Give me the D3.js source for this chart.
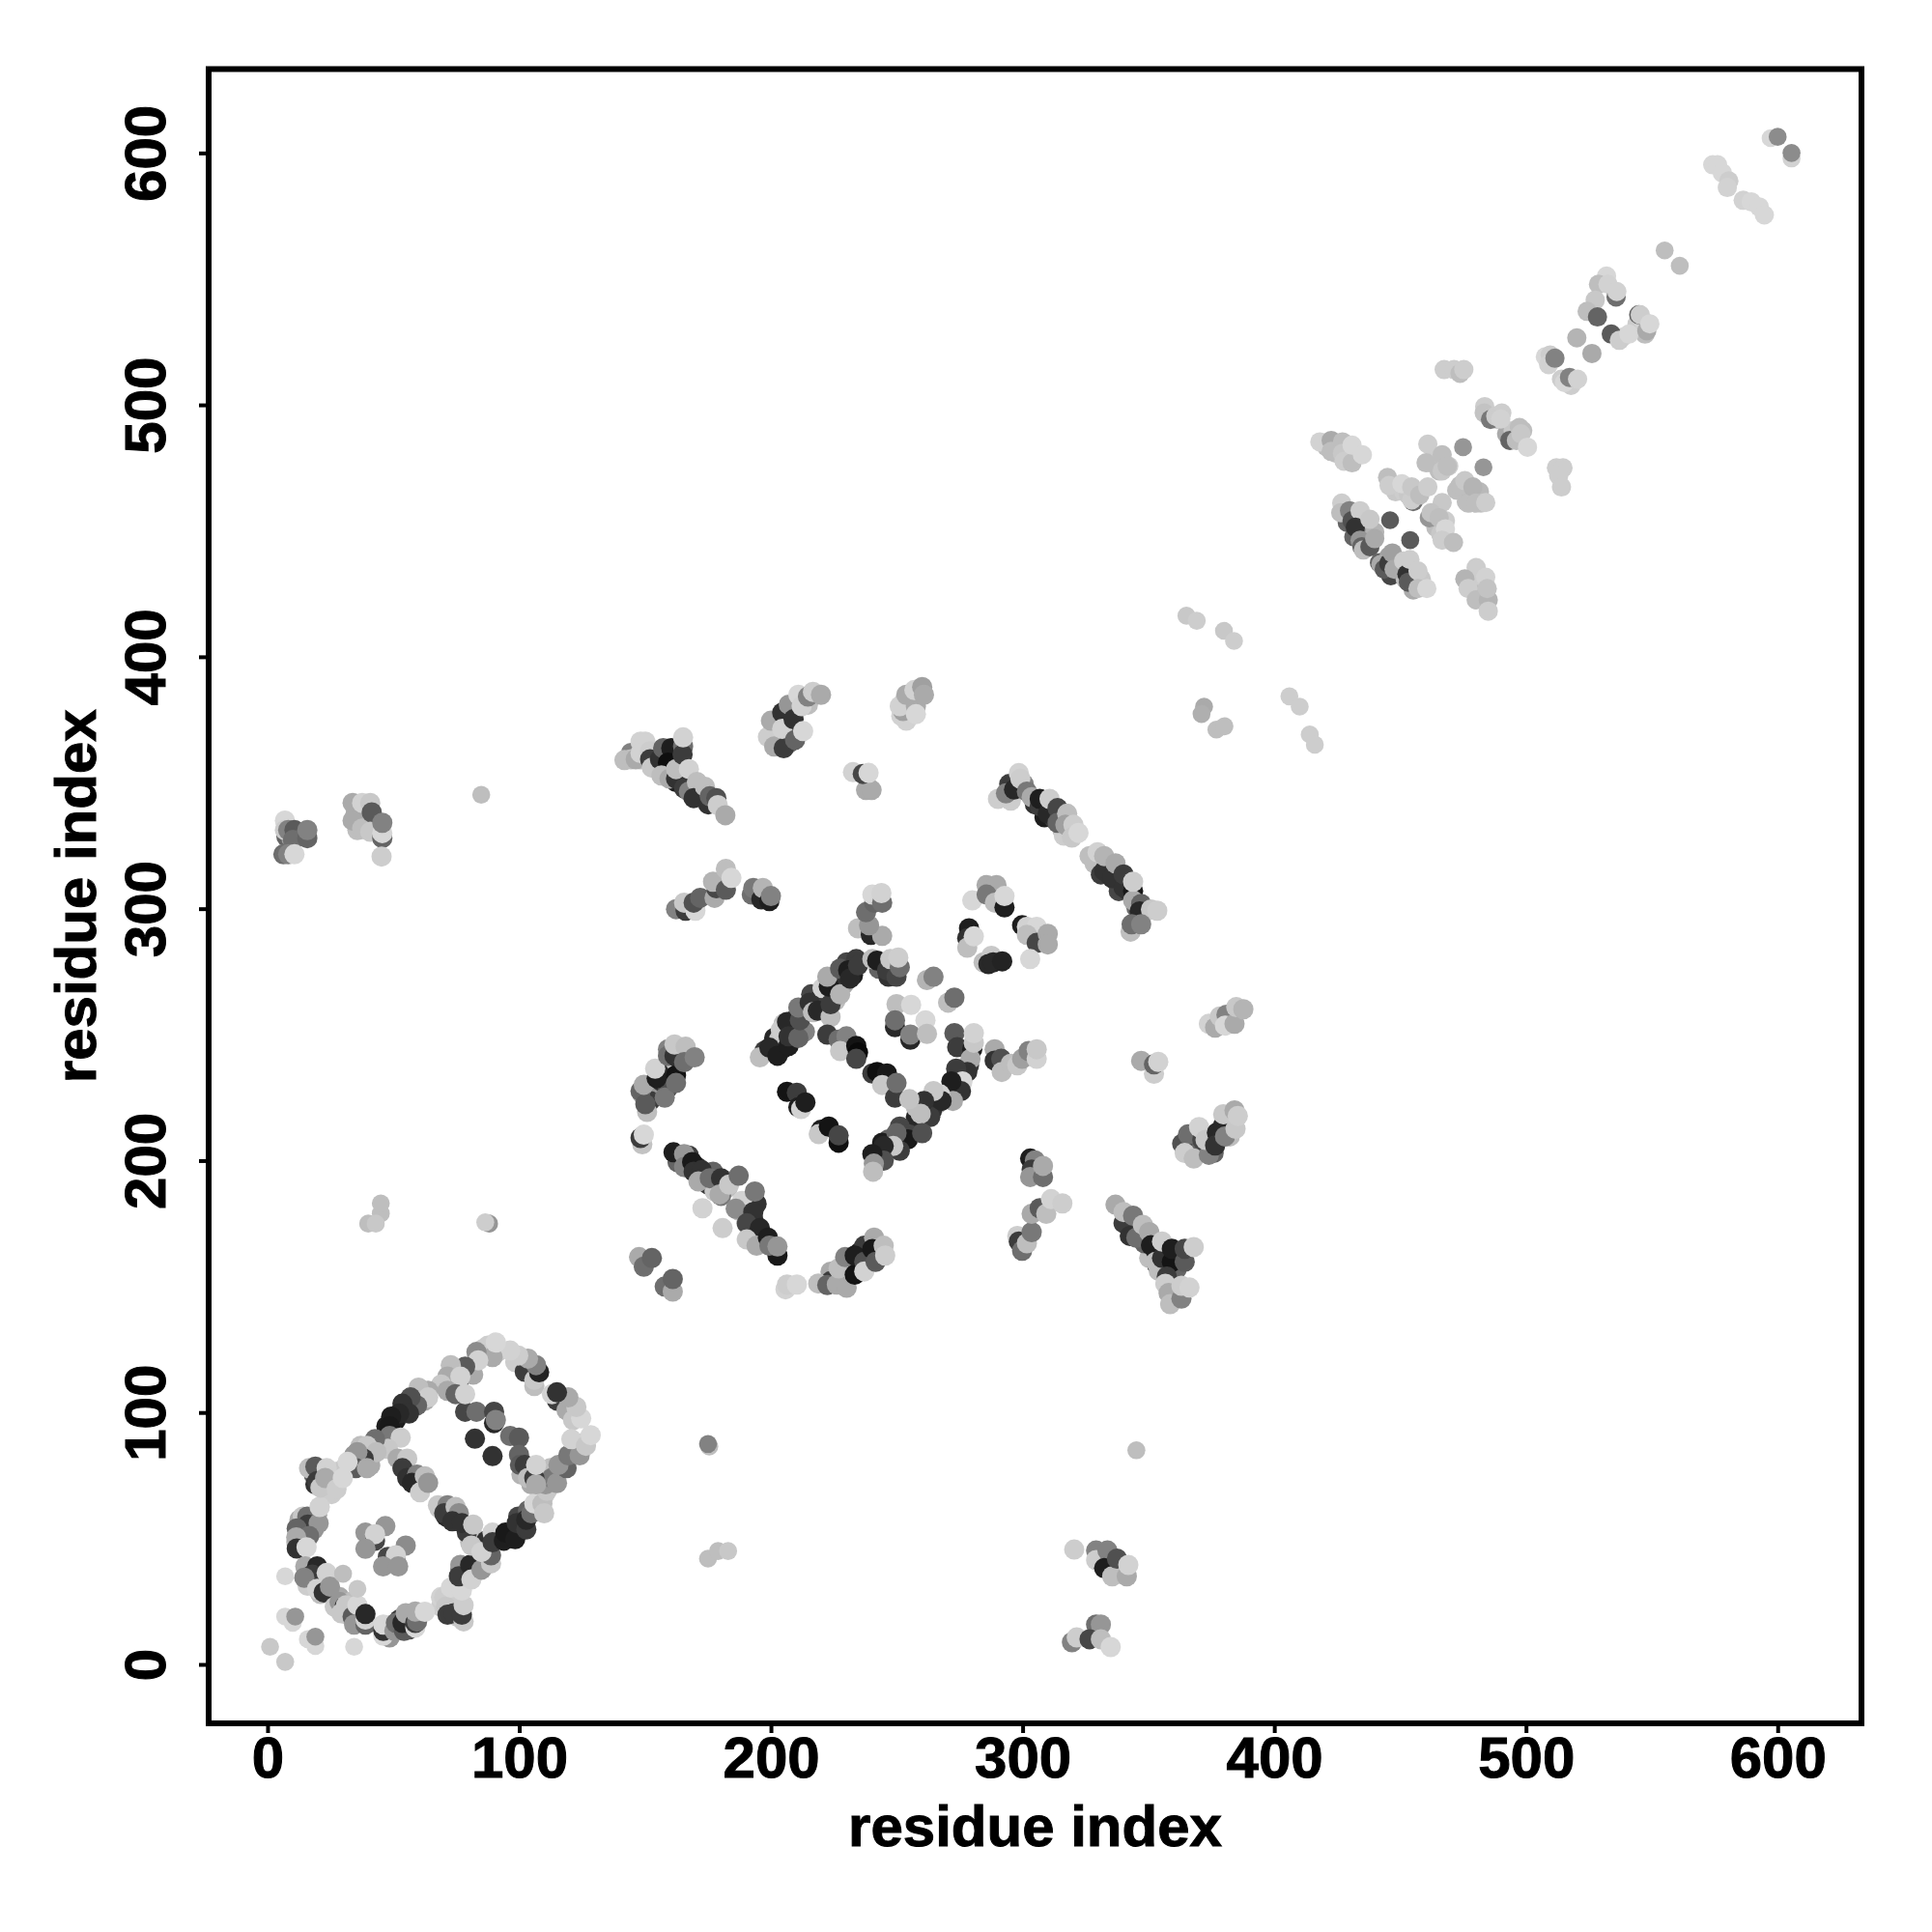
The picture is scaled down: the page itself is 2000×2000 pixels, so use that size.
<!DOCTYPE html>
<html>
<head>
<meta charset="utf-8">
<script src="https://cdnjs.cloudflare.com/ajax/libs/d3/7.8.5/d3.min.js"></script>
<style>html,body{margin:0;padding:0;background:#fff}svg{display:block}</style>
</head>
<body>
<svg id="chart" width="2000" height="2000"></svg>
<script>
// Each contact: [residue index x, residue index y, grey level]
// Contacts that sit mostly underneath others in the picture
const underI = [[18.4,75.3,100],[21.6,70.2,205],[25.4,72.8,205],[25.4,67.6,205],[28,76.6,210],[30.6,77.9,200],[19,71.5,50],[34.4,83,150],[37,86.8,190],[40.2,83,180],[40.8,79,170],[35.7,80.4,60],[45.9,86.8,200],[47.2,94.5,30],[51,97,30],[55.5,101.5,60],[58.7,105.4,100],[62.5,104.7,170],
[74,115,190],[76,112.4,110],[80.5,117.5,110],[81.7,115,170],[85.6,125.2,205],[91.3,124,200],[98.4,120,205],[103.5,117.5,200],[102.2,116.2,60],[106,110.5,190],[115,104.7,60],[118.8,100.9,170],[121.4,97,200],[122.7,86.8,190],[125.9,88.1,205],[117.5,79.2,70],[112.4,77.9,190],[113.7,72.8,60],[111.1,72.8,190],[107.9,70.2,200],[104.8,71.5,170],[109.9,67,205],[100.9,75.3,180],
[99.6,58.7,70],[100.9,53.6,40],[96.4,51,25],[107.3,61.2,190],[103.5,61.2,100],
[12.7,57.4,170],[13.9,53.6,90],[14.6,49.7,170],[19.7,59.3,170],[18.4,53.6,150],[11.4,48.5,190],[17.8,32.5,60],[15.9,31.2,205],[21,28,190],[16.5,35.7,60],[19.7,33.1,60],[22.3,31.8,205],
[28.6,26.7,170],[30.6,20.3,100],[33.1,24.8,190],[34.4,21.6,40],[37,17.1,100],[48.5,10.7,150],[52.3,17.8,60],[56.2,13.9,80],[56.2,17.8,150],
[68.9,22.9,205],[68.9,26.7,210],[73.4,26.7,205],[72.8,21,60],[75.3,19,200],[75.3,26.7,205],
[76.6,37.6,120],[78.5,36.3,60],[79.2,34.4,210],[83,39.5,190],[85.6,40.8,150],[83,49.7,200],[80.5,48.5,190],[83.7,44.6,190],[86.9,49.1,50],[86.2,39.5,190],
[70.9,58.7,40],[72.8,61.2,60],[75.3,57.4,50],[79.2,54.9,190],[79.2,52.3,60],[67.7,63.2,200]];

const underII = [[197.5,243.6,60],[200.7,244.2,200],[204.5,244.2,40],[201.3,248.7,40],[203.2,248,200],[205.1,254.4,190],[208.3,250.6,100],[209,255.7,60],[213.5,251.2,130],[213.5,259.5,100],[216,266,70],[218.6,263.4,40],[221.1,260.8,110],[222.4,264.7,60],[225.6,263.4,190],[225,272.3,100],[228.8,269.8,170],[228.8,273.6,50],[232.6,273.6,30],[230.1,278.7,70],[233.9,280,60],[242.9,276.2,100],[244.2,278.7,200],[246.7,273,50],[248.6,278.7,170],
[265.9,222.4,170],[264,219.9,50],[269.1,225,60],[271,227.6,120],[274.9,234,60],[272.9,229.5,40],[278.7,237.8,60],[259.5,222.4,60],[257.6,217.3,40],[257.6,221.2,190],[253.1,209.7,50],[250.6,207.7,30],[251.2,213.5,70],[246.7,208.4,100],[247.4,203.9,200],[244.2,207.1,30],[242.2,201.3,60],
[153.3,228.8,150],[156.5,231.4,50],[157.2,234,60],[159.1,228.8,80],[161,235.2,40],[160.4,240.4,60],[162.3,239.1,200],[148.9,226.3,170],[152,223.7,60],[159.1,244.2,130],[163.6,240.4,30],[148.2,227.6,100],
[162.9,199.4,100],[167.4,196.9,180],[167.4,202,60],[170.6,197.5,40],[173.2,193,170],[175.1,190.5,60],[177,195.6,100],[178.3,189.2,130],[180.8,187.9,60],[182.8,189.2,190],[177.6,187.9,200],[180.2,186,120],[191.7,184.1,60],[187.2,180.2,190],[191.1,177.7,60],[191.7,172.6,190],[192.4,170,60],[196.2,167.5,90],[196.8,170,30],[193,176.4,40],[194.3,182.8,50],
[223.7,155.9,170],[223.7,152.1,60],[227.5,153.4,30],[228.8,158.5,50],[230.7,157.2,190],[232.6,159.8,30],[235.2,158.5,100],[235.2,163.6,30],[237.1,166.2,60],[239,161.1,30],[241.6,166.8,25],[242.9,162.3,110]];

const underIII = [[294.7,349.5,60],[295.3,342.9,205],[300.4,349.5,130],[304.9,341.4,50],[308.7,336.3,30],[312.6,335.5,60],[315.8,331.2,190],[316.4,329,205],[328.6,318,190],[331.1,313.6,60],[334.3,313.6,50],[337.5,310.7,40],[338.2,307,70],[342,307,50],[345.2,300.4,110],[349,299,190],
[350.3,161.3,190],[352.9,164.3,40],[353.5,158.4,40],[357.3,158.4,40],[354.1,156.2,190],[360.5,161.3,50],[361.2,156.9,100],[346.5,170.1,170],[343.9,171.6,60],[348.4,167.2,100],[341.4,176,50],
[370.8,203.8,80],[366.9,206.7,190],[369.5,208.2,100],[374.6,206.7,40],[375.9,203,100],[382.3,209.6,190],
[162.3,363.1,130],[160.4,356.7,60],[158.5,352.9,30],[162.3,350.3,30],[166.1,349,100],[168.7,345.2,30],[172.5,343.9,180],[148.2,359.3,190],[154.6,356.7,60],[144.4,361.8,130],
[203.2,365.7,70],[202,368.2,160],[207.1,365.7,100],[207.1,372.1,30],[210.9,369.5,110],[206.4,376.5,30],[209.6,379.4,190],[214.7,381,190],[203.2,374.6,40],
[253.1,382.3,170],[256.3,383.6,205],[259.5,386.1,170],[251.8,376.5,210],[255,378.5,190],
[7.5,328.6,100],[9.5,328,160],[6.3,321.6,110],[12.6,328.6,170],[39.5,335,60],[38.2,331.8,30],[35,337.6,170],[35.7,331.2,190]];

const underIV = [[429,453.3,100],[432.8,448.8,60],[436,445,50],[434.1,451.4,170],[437.3,447.6,130],[436,454.6,190],[439.9,449.5,180],[431.6,447.6,100],[441.8,437.3,100],[445.6,439.9,160],[448.8,438.6,170],[450.1,434.8,190],[446.3,432.2,70],[452,430.9,190],[455.9,430.9,190],[455.2,426.5,170],[458.4,430.9,200],
[424.5,480.8,190],[420.7,483.4,190],[429,483.4,200],[429,478.3,210],[447.6,468,205],[448.2,465.5,200],[451.4,465.5,205],[455.9,465.5,190],[453.3,464.2,200],
[461.6,477,205],[464.2,478.3,205],[465.5,473.8,190],[469.3,475.7,205],[472.5,466.1,190],[476.3,461.6,190],[478.3,464.2,185],[481.5,465.5,185],[482.1,461,195],
[464.2,456.5,195],[464.2,451.4,190],[466.1,448.8,200],[468,454,205],[477.6,430.9,205],[479.5,428.4,195],[482.1,425.8,190],[481.5,432.2,205],
[484.6,496.2,195],[488.5,494.2,200],[492.3,488.5,170],[494.9,489.8,200],[498.7,489.8,190],[538.4,526.9,210],[544.1,532,205],[546.7,533.2,210],[547.3,528.1,190],[507.7,519.1,215],[514.1,510.2,205],[517.9,507.7,205]];

const stragglers = [[1,7,200],[7,1,200],[7,35,215],[7,19,215],[10,16.5,215],[11,19,150],[16,10,215],[19,7.3,215],[19,11,150],[34.4,7,215],[35.7,30,200],[30,36,190]];

const domainI = [[20.7,62.5,210],[14,58.7,200],[15.8,58.7,110],[16,55.5,60],[11.6,54,100],[20.3,56,150],[20.7,62.5,210],[16.5,51,110],[11.4,50.4,170],[11.6,46,50],[15.5,46.5,215],
[15,38.9,170],[19.7,38.9,40],[17.8,35.7,60],[14.6,34.4,130],[23.5,36.3,210],[19.7,30,210],[22.3,28.6,50],[24.8,30.9,150],
[26.7,22.9,200],[28.6,24.8,150],[30.6,22.9,60],[31.2,23.5,200],[29.3,20.3,200],[33.8,19,90],[35.7,23.5,215],[34.4,15.8,150],[38.9,15.8,100],[38.9,17.8,210],[38.9,20,40],
[46,11.4,215],[46,13.3,50],[46,15.8,215],[50.4,13.3,150],[51,16.5,110],[54.2,13.3,90],[53.6,16.5,40],[54.9,20.3,170],[58.7,14.6,215],[58.7,16.5,60],[59.4,17,110],[58.7,21,170],[62.5,20.9,215],
[70.2,26.7,205],[70.9,22.9,200],[71.5,19.7,60],[72.8,30.5,215],[74,20.3,60],[77.9,17.1,200],[77.2,19.7,60],[77.9,23.5,205],[77.2,29.3,215],
[76.6,39.5,150],[76,35,60],[80.5,39.5,40],[81,33.7,210],[85,37.6,150],[81,47.2,200],[88.8,40.1,200],[88.8,43.3,100],[85,44.6,210],[89.4,52.3,210],[89.4,48.5,60],
[68.3,61.9,200],[71.5,63.2,130],[70.2,60,60],[74.7,62.5,190],[76,60,140],[73.4,56.8,50],[77.2,56.1,50],[81.7,55.5,200],
[93.9,49.1,30],[94.5,52.3,25],[98.4,49.7,30],[99,56.1,50],[102.8,53.6,60],[102.8,57.4,40],[104.8,60,110],[106,63.8,215],[109.2,63.8,190],[109.9,60,200],
[46.8,54.9,150],[38.9,52.3,150],[42.7,49.1,70],[42.7,51.7,210],[38.9,45.9,150],[54.9,47.2,140],[47.8,42.7,70],[51,41,50],[51,43.3,210],[45.9,38.9,150],[51.9,38.9,150]];

const domainII = [[111,68.9,200],[110.5,71.5,150],[113,74,120],[115,72,150],[118.8,77.9,100],[115.6,79.2,150],[119.5,83,120],[124,83,150],[120.7,89.4,210],[126.5,86.8,200],[128.4,91,215],[124.6,97.7,215],[122.7,102.2,200],[119.5,106,170],[113,107.3,210],[115,108,50],
[106,113,200],[107.9,116,35],[106.7,118.8,130],[103.5,121.4,170],[99.6,122.6,205],[96.4,124.6,210],[87.5,126.5,205],[89.4,122,170],[90.7,127.8,215],[83,124,140],[83.7,120.7,210],[78.5,118.2,90],[72.8,118.8,190],[71.5,114.3,170],[76.6,114.3,210],[69,111.1,200],[71.5,108.6,170],[63.8,108.6,170],[60,109.9,190],[63.8,106,205],
[59.4,102.8,100],[56.8,106,80],[53.6,103.5,50],[56.2,99.6,50],[52.3,99.6,40],[49.1,98.4,30],[48.5,94.5,25],[48.5,90.7,120],[52.9,90,205],[47.8,85.6,200],[42.7,89.4,110],[39.5,86.8,200],[43.3,84.3,190],[38.2,81.7,60],[35.7,84.3,150],[35,77.9,90],[39.5,77.9,170],
[16.5,77.9,190],[19,78.5,90],[19.7,72.8,60],[21,70.2,200],[23.5,77.9,210],[22.9,74,170],[27.4,69.6,205],[29.9,74,215],[31.8,80.4,215],
[51.7,81.7,170],[55.5,81.7,200],[53.6,77.9,60],[55.5,74,50],[59.4,75.3,130],[57.4,72.1,40],[62.5,74.7,190],[60.6,68.3,205],[63.8,72.1,150],
[74.7,107.3,100],[78.5,100.3,70],[78.5,107.3,210],[83,100.3,110],[90,95.8,40],[90,100.3,70],[90.7,97,130],[82.4,89.6,50],[89.4,82.7,50],[96.4,90.7,110],[99.9,90,90],[99.9,83.2,100],[100.3,79.2,90],[102.2,79.2,60],[103.5,74,190],[106,74,60],[106.7,71.5,170],[106.7,79.2,210]];

const domainIII = [[162.3,299.8,130],[166.1,299.2,60],[165.5,302.4,200],[170,299.2,215],[169.3,302.4,80],[171.9,304.3,100],[177.6,304.3,170],[178.3,308.1,70],[177,310.7,180],[182.1,307.5,90],[182.1,315.8,190],[184.3,312.2,215],
[192.4,305.6,110],[193,308.2,120],[196.2,303.7,40],[196.8,308.2,180],[199.4,303,30],[200,305,130],
[234.6,292.2,190],[239.7,289.6,40],[244.2,289.2,170],[239,293.4,150],[237.8,298.6,110],[241,302.4,100],[240.3,305.6,215],[244.2,302.4,110],[243.9,306.2,210],
[280,303.3,215],[285.7,309.4,170],[289.6,309.4,170],[285.7,305.6,120],[289,302.4,190],[292.8,300.5,30],[292.8,305,215],
[278.7,292.2,30],[278,288.3,50],[278,284.5,190],[280.6,289,215],
[284.5,278.7,190],[287.6,281.3,200],[286.4,278,40],[288.3,278.7,40],[291.9,279.1,35],
[299.8,293.4,30],[301.7,292.8,210],[305.6,292.8,215],[301.7,289.6,190],[305.6,286.4,70],[310,290,170],[310,285.8,170],[303,280,215]];

const domainIV = [[195.6,241,190],[199.4,244.8,40],[202.6,241.6,30],[203.9,251.9,205],[206.4,255,40],[207,245.5,30],[207,249.3,50],[210.9,248.7,100],[211.5,255.7,80],[210.9,260.8,120],[215.4,262.7,50],[216.7,258.9,190],[218.6,259.5,40],[220.5,268.5,210],[223.7,257,190],[223.7,262.1,60],[223,269.1,30],[222.4,273,170],[227.5,276.2,90],[227.5,266,180],[230.7,275.5,30],[231.4,272.3,40],[234.6,277.5,60],[240.3,280,190],[242.2,279.4,30],[246.1,275.5,60],[247.4,280,200],[249.9,273,70],[251.2,276.8,110],[250.6,280.6,205],
[222.4,250,60],[226.9,248,110],[230,249.3,130],[227.5,243.5,200],[233.9,245.5,20],[234.6,242.9,10],[233.9,240.4,70],[240.3,234.6,60],[242.2,235.2,15],[246.1,234.6,25],[244.2,230,200],[249.3,225,60],[249.9,230.8,110],
[206.4,227.3,20],[210.3,226.9,60],[210.9,221.2,30],[212,220.5,210],[213.7,223.1,30],[219.9,212.2,30],[219,210.5,200],[223,213.5,20],[226.9,207.1,15],[226.9,210,70],
[249.9,262.1,190],[255.7,261.8,215],[262,271.7,180],[264.6,273,130],[270.4,262.7,190],[272.9,264.7,110],[249.3,253,40],[249.3,255.7,110],[261.4,255.7,215],[255.4,248,40],[255.4,250,130],[262,250.3,190],
[272.9,250.6,90],[274,245,60],[280,244.2,30],[279.3,240.4,170],[280.6,246.8,200],[280.6,250.6,210],
[278,235.2,50],[273.6,236.5,60],[276.1,231.4,215],[275.5,227.6,50],[271.7,231.4,30],[272.3,223.7,170],[267.2,226.3,210],[267.8,223.7,40],[264.6,227.6,200],[263.3,217.3,60],[260.8,223.7,50],[259.5,218.6,190],[255,224.4,195],[255,210.3,70],[254.4,208.4,25],[260.1,210.9,80],[249.9,210.9,100],[251.2,203.9,60],[248.6,205.8,200],[244.8,205.8,40],[244.8,200,80],[240.3,202.6,30],[240.9,198.8,150],[240.6,195.6,190],
[288.9,244.2,170],[288.9,239.7,50],[291.5,240.4,80],[291.7,235.2,190],[295.3,238.4,190],[297.9,237.8,200],[299.8,240.4,160],[302.4,243.5,130],[305.6,240.4,210],[305.6,244.2,200]];

const domainV = [[150.8,219.3,190],[150.1,222.4,90],[149.5,230.1,170],[154.6,232.7,30],[154,236.5,210],[157.8,225,120],[162.3,233.9,20],[162.3,230.8,110],[159.1,241.6,110],[161.7,241.6,50],[161.7,246.1,200],[166.1,245.2,190],[165.5,239.1,110],[169.7,241,130],
[148.9,206.5,195],[148.2,209,60],[149.5,210.3,215],
[161.3,203.3,30],[165.5,202.6,150],[165.5,197.5,130],[168.7,199.4,25],[169.3,195.6,50],[172.5,196.2,50],[171.2,191.7,170],[175.7,193,110],[180.2,193,50],[179.6,186.6,170],[183.4,190.5,200],[187.2,194,110],[172.8,181.1,210],[180.8,173.2,205],
[188.5,184,210],[186,180.9,140],[193,179.6,50],[193.6,187.7,120],[190.4,175.1,70],[195.6,173.2,40],[190.4,168.7,200],[194.3,166.2,170],[198.8,169.4,30],[202.6,162.3,25],[199.4,166.2,120],[202.6,165.9,150],
[147.6,161.7,170],[149.5,157.9,110],[152.7,161.3,100],[157.8,150,110],[161,148,170],[161,153,100],
[205.8,148.9,210],[206.4,150.8,205],[210.3,150.8,215],[218.8,151.2,190],[222.4,150.6,100],[226.2,150.8,170],[230.1,149.5,170],[226.9,157.2,190],[229.5,161.7,130],[233.3,154.7,20],[233.3,162.3,30],[237.1,159.8,80],[237.1,156,210],[241,169.4,170],[240.3,164.9,25],[241.6,159.8,90],[244.8,166.2,190],[245.4,162.3,205]];

const domainVI = [[290.2,343.6,205],[293.4,345.8,130],[298.5,353.8,210],[296.6,347.3,40],[299.1,351.6,205],[301.7,346.5,120],[303.6,344.3,170],[306.8,340.7,60],[306.8,343.6,30],[310,337.7,40],[310.7,343.6,205],[313.9,339.9,70],[313.9,334.1,100],[317.7,337.7,190],[317,333.3,160],[320.2,333.3,205],[319.6,328.2,200],[322.2,330.1,215],
[326.6,320.9,190],[329.8,322.4,210],[332.4,315,50],[332.4,320.9,180],[335.6,312.1,50],[336.9,318,170],[340.1,308.5,50],[340.1,313.6,60],[343.9,307,25],[343.9,303.3,170],[343.9,310.7,205],[347.1,301.9,100],[346.5,298.9,40],[351,299.7,200],[353.5,299.2,205],[342.9,290.9,190],[343.3,293.8,110],[347.1,293.8,130],
[374,254.3,210],[376.5,252.8,170],[378.4,257.2,200],[381,257.9,130],[380.4,253.6,215],[384.2,254.3,170],[384.9,260.9,200],[387.7,260.1,180],
[347.1,239.6,170],[352.2,234.5,205],[352.2,238.2,100],[353.9,239.2,210],
[363.4,206.7,80],[365.7,210.4,110],[364.4,203,205],[368,200.8,190],[371.4,208.2,70],[370.1,213.3,210],[374,202.3,130],[372.7,208.2,200],[377.2,211.1,40],[376.5,206,50],[379.7,214,40],[380.4,209.6,130],[379.7,218.4,200],[384.6,212.6,200],[384.2,219.9,170],[385.5,217.7,205],
[303,200.8,30],[304.9,200.1,130],[303.6,196.4,60],[303,193.5,150],[308.1,193.5,110],[308.1,197.9,170],
[297.9,170.1,205],[298.5,167.9,60],[299.8,164.2,110],[301.7,167.2,190],[303.6,171.6,120],[303.6,178.9,170],[306.8,181.1,90],[309.4,178.9,190],[311.3,184.7,210],[315.8,183,205],
[336.9,182.5,170],[340.1,175.2,60],[340.1,179.6,190],[343.9,178.1,120],[342.6,170.1,50],[345.2,169.4,110],[347.8,174.5,190],[350.3,171.6,170],[351,166.4,30],[352.9,159.8,190],[355.4,161.3,50],[355.4,167.9,205],[359.3,159.8,20],[359.3,165,30],[357.3,154,60],[356.7,151.1,205],[364.4,159.8,90],[364.4,165,70],[368,165.7,205],[358,147.4,170],[358.6,143,190],[363.1,145.2,130],[363.1,150.3,205],[366.3,149.6,210],
[320.5,45.6,205],[329.2,45.2,130],[329.2,41.4,205],[333.7,45.2,130],[332.4,38.2,30],[335.6,35,190],[337.5,42,80],[341.4,35,170],[342,39.5,210],
[319.6,8.8,130],[321.5,10.7,205],[329.2,15.8,110],[331.1,15.8,150],[326.6,10,70],[331.1,10,190],[335,6.9,215]];

const domainVII = [[141.8,359,190],[144.4,359.3,190],[146.3,359.3,170],[148.2,366.3,210],[150.1,366.3,210],[148.2,361.8,210],[152,362.5,205],[152,359.3,60],[152.7,356,200],[155.9,359.3,50],[157.2,363.7,100],[160.4,363.7,30],[159.1,358,15],[156.5,352.9,190],[159.7,351.6,170],[162.3,351.6,50],[162.3,355.4,190],[165.1,364.4,110],[164.9,361.2,60],[165.1,368,210],[167.4,355.4,210],[165.5,347.8,60],[167.4,346.5,130],[170.6,350.3,190],[169.3,343.9,50],[173.8,348.4,190],[175.1,341.4,50],[175.7,344.6,100],[178.3,343.9,80],[178.9,341.1,205],[181.9,337.1,170],
[198.8,368.2,205],[200,374.6,170],[201.3,364.4,170],[205.1,363.7,60],[204.5,377.8,50],[207.1,381,150],[204.5,371.4,210],[209.6,367,100],[209,375.2,50],[212.8,370.5,215],[210.9,384.9,215],[212.2,380.4,210],[214.7,384.2,130],[216.7,386.1,205],[219.9,384.9,170],
[253.8,374.6,210],[252.5,378.5,160],[251.2,380.4,210],[257.6,380.4,170],[257.6,377.2,215],[253.8,384.9,170],[257,386.8,210],[260.1,388,160],[260.8,384.9,170],
[232.6,354.2,210],[237.8,347.1,170],[240,347.1,170],[236.5,353.5,70],[238.8,353.9,215],
[6.9,335,215],[6.9,331.2,205],[8.2,331.2,130],[10.7,331.2,90],[10.1,327.3,110],[8.2,321.6,130],[10.7,321.6,215],[15.8,328,100],[15.8,331.2,130],
[33.8,342,170],[33.8,335,170],[37.6,342,210],[37.6,331.8,190],[40.8,342,200],[41.4,338.2,90],[40.8,330.5,200],[45.6,328,100],[45.6,330,215],[45.6,334.1,130],[45.3,320.7,205]];

const domainVIII = [[418.1,485.3,210],[422.6,485.9,170],[422.6,481.5,190],[427.1,485.3,190],[427.1,480.8,200],[427.7,477.6,205],[430.9,477,190],[430.9,484,215],[435,480.2,215],
[445,471.2,190],[445.6,468,205],[450.7,468.7,215],[455.2,461.6,110],[454.6,462.3,205],[454.6,467.4,200],[457.8,464.2,190],[461,467.4,205],
[461,484.4,205],[460.3,477,190],[466.7,480.2,190],[466.7,473.8,200],[468.7,475.7,190],
[473.8,468,190],[475.7,469.9,200],[477,461,190],[478.9,467.4,180],[480.2,461,190],[484,461.2,205],
[466.7,461.2,200],[461.6,455.2,150],[462.3,457.2,195],[465.5,455.2,190],[468,450.8,215],[466.7,446.3,205],[471.2,445.4,190],
[426.8,461,205],[426.4,457.2,190],[429.9,458,130],[430.9,454,80],[434.1,458,205],[432.2,451.4,50],[434.1,446.3,150],[434.8,443.7,100],[435.4,442.4,190],[438,443.7,90],[438,454.6,200],[439.9,446.9,170],
[442.4,436.7,170],[443.7,434.8,90],[445.5,437,60],[446.9,441.2,160],[447.6,434.8,170],[451.4,438,205],[452.7,432.8,50],[453.9,438.6,205],[453.3,429.6,90],[457.1,434.1,205],[457.1,427.1,190],[460.6,427.1,215],
[480.2,435.4,205],[475.7,430.9,180],[477,427.1,205],[480.2,422.6,190],[484,431.6,210],[485,422.6,180],[484.6,427.1,195],[485,418.1,205]];

const domainIX = [[483.6,499.3,205],[483.4,496.8,195],[485.9,494.2,120],[488,495.5,205],[490.4,496.8,205],[490,494.4,210],[493.6,485.9,100],[497.4,491,190],[496.2,485.9,190],[498,488.5,200],[500.6,483.2,215],
[512.1,475,205],[514.7,475,205],[513,472,205],[514.1,467.4,205],[467.5,514,205],[471.4,514,205],[473.8,512.5,190],[475.3,514,205],
[574.2,595.3,215],[576.1,595.3,215],[578,592.1,215],[580.6,588.9,205],[580,586.3,210],[586.3,581.2,210],[589.5,580.6,215],[592.7,578.6,215],[594.7,575.4,215],
[532,551.1,215],[528.8,547.9,190],[532.6,547.9,210],[535.8,542.8,110],[536.1,545,210],[527.5,541.6,200],[524.3,537.1,190],[528.4,534.9,100],
[533.9,528.1,90],[537.1,525.6,205],[540.9,528.1,215],[544.8,535.8,100],[545.4,535.8,205],[548,529.4,170],[549.2,532.2,215],
[520.2,526.6,180],[526.2,520.4,170],[509.6,519.8,205],[509,516,210],[511.5,518.5,130],[515.3,508.9,215],[517.3,510.9,130],[520.5,510.2,210]];

const sparse = [[84.9,345.2,190],[345.2,85,190],[175.5,86.5,190],[175,87.5,130],[40,175,190],[45,179,190],[45,183,190],[43,175,200],[88,175,150],[86.5,175.5,205],[175,42,190],[179,45,190],[183,45,200],
[446,454.2,90],[454,446.3,90],[475,483.2,150],[483.1,475.2,150],[597.2,605.9,215],[600,606.4,140],[605.5,597.8,210],[605.5,600,140],[555.1,561.3,190],[561.1,555.2,190],
[365.1,416.3,200],[369.2,414.3,205],[380,410.3,200],[384,406.3,205],[372.1,380.2,170],[371.1,377.3,175],[377,371.1,190],[380.2,372.4,190],[406,384.3,205],[410.1,380.2,205],[414.1,369.2,205],[416.1,365.1,205]];

const dense = [...underI, ...underII, ...underIII, ...domainI, ...domainII, ...domainIII, ...domainIV, ...domainV, ...domainVI, ...domainVII];
const pale = [...underIV, ...domainVIII, ...domainIX];
const lone = [...stragglers, ...sparse];
const tickValues = [0, 100, 200, 300, 400, 500, 600];
const axisLabel = "residue index";

const svg = d3.select("#chart");
const box = {left: 216, right: 1927, top: 71.5, bottom: 1784};
const x = d3.scaleLinear().domain([-23.4, 633.3]).range([box.left, box.right]);
const y = d3.scaleLinear().domain([-23.4, 633.3]).range([box.bottom, box.top]);
const grey = d3.scaleLinear().domain([0, 255]).range(["#000", "#fff"]);
const font = "'Liberation Sans', Arial, sans-serif";

[[dense, 10.5], [pale, 10], [lone, 9.3]].forEach(([points, radius]) => {
  svg.append("g").selectAll("circle").data(points).join("circle")
    .attr("cx", d => x(d[0])).attr("cy", d => y(d[1])).attr("r", radius)
    .attr("fill", d => grey(d[2]));
});

svg.append("rect").attr("x", box.left).attr("y", box.top)
  .attr("width", box.right - box.left).attr("height", box.bottom - box.top)
  .attr("fill", "none").attr("stroke", "#000").attr("stroke-width", 6);

function embolden(sel) {
  sel.attr("fill", "#000").attr("stroke", "#000").attr("stroke-width", 1)
    .style("font", "bold 60px " + font);
}
function style(g) {
  g.select(".domain").remove();
  g.selectAll(".tick line").attr("stroke", "#000").attr("stroke-width", 4);
  g.selectAll(".tick text").call(embolden);
}
svg.append("g").attr("transform", `translate(0,${box.bottom})`)
  .call(d3.axisBottom(x).tickValues(tickValues).tickSize(10).tickPadding(2).tickFormat(d3.format("d")))
  .call(style)
  .call(g => g.selectAll(".tick text").attr("dy", null).attr("y", 56));
svg.append("g").attr("transform", `translate(${box.left},0)`)
  .call(d3.axisLeft(y).tickValues(tickValues).tickSize(10).tickFormat(d3.format("d")))
  .call(style)
  .call(g => g.selectAll(".tick text").attr("dy", null).attr("x", null).attr("y", null)
    .attr("text-anchor", "middle").attr("transform", "translate(-45,0) rotate(-90)"));

svg.append("text").attr("x", (box.left + box.right) / 2).attr("y", 1911)
  .attr("text-anchor", "middle").call(embolden).text(axisLabel);
svg.append("text").attr("transform", `translate(99,${(box.top + box.bottom) / 2}) rotate(-90)`)
  .attr("text-anchor", "middle").call(embolden).text(axisLabel);
</script>
</body>
</html>
